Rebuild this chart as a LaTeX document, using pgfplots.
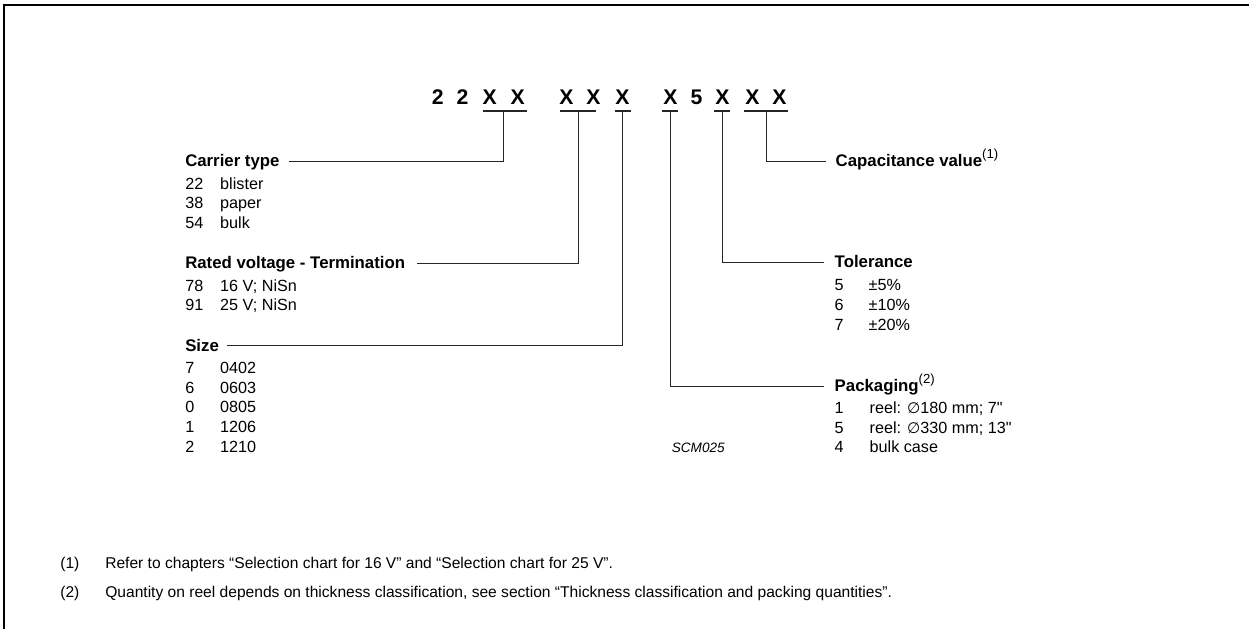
\documentclass[border=0pt]{standalone}
\usepackage{pgfplots}
\pgfplotsset{compat=1.18}
\usepackage{fontspec}
\setmainfont{Liberation Sans}
\newfontfamily\dejavu{DejaVu Sans}

\newcommand{\dia}{{\dejavu\fontsize{7.6}{9}\selectfont ∅}}
\newcommand{\inch}{{\addfontfeatures{Ligatures=TeXOff}"}}
\newcommand{\note}[1]{\raisebox{0.9ex}{\mdseries\fontsize{6.6}{7}\selectfont #1}}

\begin{document}
\begin{tikzpicture}[
    lab/.style={anchor=base west, inner sep=0pt, font=\fontsize{8.4}{10}\selectfont\bfseries},
    txt/.style={anchor=base west, inner sep=0pt, font=\fontsize{8.1}{10}\selectfont},
    tcode/.style={anchor=base, inner sep=0pt, font=\fontsize{10.6}{12}\selectfont\bfseries},
]
\begin{axis}[
    width=625pt, height=314.5pt,
    scale only axis,
    hide axis,
    xmin=0, xmax=1250,
    ymin=0, ymax=629,
    y dir=reverse,
    clip=false,
    lead/.style={black!85, line width=0.6pt, no marks},
]
    % page extent
    \addplot[draw=none, no marks] coordinates {(0,0) (1250,629)};

    % frame (top and left only)
    \addplot[black, line width=1pt, no marks] coordinates {(1250,5.5) (4,5.5) (4,629)};

    % type code
    \node[tcode] at (axis cs:438,105) {2};
    \node[tcode] at (axis cs:463,105) {2};
    \node[tcode] at (axis cs:490,105) {X};
    \node[tcode] at (axis cs:518,105) {X};
    \node[tcode] at (axis cs:567,105) {X};
    \node[tcode] at (axis cs:594,105) {X};
    \node[tcode] at (axis cs:623,105) {X};
    \node[tcode] at (axis cs:671,105) {X};
    \node[tcode] at (axis cs:697,105) {5};
    \node[tcode] at (axis cs:723,105) {X};
    \node[tcode] at (axis cs:753,105) {X};
    \node[tcode] at (axis cs:780,105) {X};

    % underlines
    \addplot[lead] coordinates {(483,111) (527,111)};
    \addplot[lead] coordinates {(560,111) (596,111)};
    \addplot[lead] coordinates {(615,111) (631,111)};
    \addplot[lead] coordinates {(663,111) (679,111)};
    \addplot[lead] coordinates {(715,111) (731,111)};
    \addplot[lead] coordinates {(745,111) (789,111)};

    % leader lines
    \addplot[lead] coordinates {(504,111) (504,161.5) (289,161.5)};
    \addplot[lead] coordinates {(579,111) (579,264) (417,264)};
    \addplot[lead] coordinates {(623,111) (623,346) (227,346)};
    \addplot[lead] coordinates {(671,111) (671,387) (825,387)};
    \addplot[lead] coordinates {(723,111) (723,263) (825,263)};
    \addplot[lead] coordinates {(767,111) (767,161.5) (827,161.5)};

    % left column
    \node[lab] at (axis cs:185,167) {Carrier type};
    \node[txt] at (axis cs:185,190) {22};
    \node[txt] at (axis cs:220,190) {blister};
    \node[txt] at (axis cs:185,209) {38};
    \node[txt] at (axis cs:220,209) {paper};
    \node[txt] at (axis cs:185,229) {54};
    \node[txt] at (axis cs:220,229) {bulk};

    \node[lab] at (axis cs:185,269) {Rated voltage - Termination};
    \node[txt] at (axis cs:185,292) {78};
    \node[txt] at (axis cs:220,292) {16 V; NiSn};
    \node[txt] at (axis cs:185,311) {91};
    \node[txt] at (axis cs:220,311) {25 V; NiSn};

    \node[lab] at (axis cs:185,352) {Size};
    \node[txt] at (axis cs:185,374) {7};
    \node[txt] at (axis cs:220,374) {0402};
    \node[txt] at (axis cs:185,394) {6};
    \node[txt] at (axis cs:220,394) {0603};
    \node[txt] at (axis cs:185,413) {0};
    \node[txt] at (axis cs:220,413) {0805};
    \node[txt] at (axis cs:185,433) {1};
    \node[txt] at (axis cs:220,433) {1206};
    \node[txt] at (axis cs:185,453) {2};
    \node[txt] at (axis cs:220,453) {1210};

    % right column
    \node[lab] at (axis cs:836,167) {Capacitance value\note{(1)}};

    \node[lab] at (axis cs:835,268) {Tolerance};
    \node[txt] at (axis cs:835,291) {5};
    \node[txt] at (axis cs:869,291) {±5\%};
    \node[txt] at (axis cs:835,311) {6};
    \node[txt] at (axis cs:869,311) {±10\%};
    \node[txt] at (axis cs:835,331) {7};
    \node[txt] at (axis cs:869,331) {±20\%};

    \node[lab] at (axis cs:835,392) {Packaging\note{(2)}};
    \node[txt] at (axis cs:835,414) {1};
    \node[txt] at (axis cs:870,414) {reel: \dia180 mm; 7\inch};
    \node[txt] at (axis cs:835,434) {5};
    \node[txt] at (axis cs:870,434) {reel: \dia330 mm; 13\inch};
    \node[txt] at (axis cs:835,453) {4};
    \node[txt] at (axis cs:870,453) {bulk case};

    \node[anchor=base west, inner sep=0pt, font=\fontsize{6.8}{8}\selectfont\itshape] at (axis cs:672,453) {SCM025};

    % notes
    \node[txt, font=\fontsize{7.8}{10}\selectfont] at (axis cs:60,569) {(1)};
    \node[txt, font=\fontsize{7.8}{10}\selectfont] at (axis cs:105,569) {Refer to chapters “Selection chart for 16 V” and “Selection chart for 25 V”.};
    \node[txt, font=\fontsize{7.8}{10}\selectfont] at (axis cs:60,598) {(2)};
    \node[txt, font=\fontsize{7.8}{10}\selectfont] at (axis cs:105,598) {Quantity on reel depends on thickness classification, see section “Thickness classification and packing quantities”.};
\end{axis}
\end{tikzpicture}
\end{document}
